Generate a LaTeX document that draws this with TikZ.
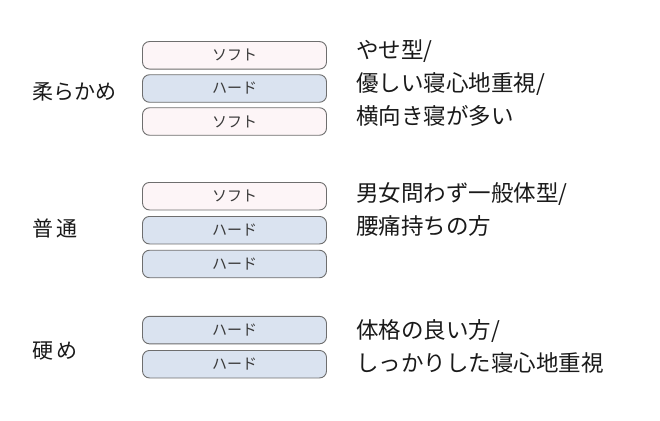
\documentclass[tikz,border=0pt]{standalone}
\usepackage{fontspec}
\setmainfont{Noto Sans CJK JP}
\definecolor{softfill}{HTML}{FDF5F7}
\definecolor{hardfill}{HTML}{DAE3F0}
\definecolor{boxgray}{HTML}{6E6E6E}
\definecolor{boxtext}{HTML}{3A3A3A}
\definecolor{maintext}{HTML}{1A1A1A}
\begin{document}
\begin{tikzpicture}[x=1pt,y=-1pt,
  boxbase/.style={draw=boxgray, line width=0.9pt, rounded corners=7pt,
    minimum width=184pt, minimum height=27.5pt, inner sep=0pt,
    font=\fontsize{15}{15}\selectfont, text=boxtext},
  softbox/.style={boxbase, fill=softfill},
  hardbox/.style={boxbase, fill=hardfill},
  lbl/.style={anchor=west, inner sep=0pt, text=maintext,
    font=\fontsize{21}{21}\selectfont, text height=18.5pt, text depth=2.5pt},
  desc/.style={anchor=west, inner sep=0pt, text=maintext,
    font=\fontsize{22.5}{22.5}\selectfont, text height=19.8pt, text depth=2.7pt}]
\useasboundingbox (0,0) rectangle (660,420);
\fill[white] (0,0) rectangle (660,420);

% group 1
\node[lbl] (l1) at (32,91) {柔らかめ};
\node[softbox] (b11) at (234.5,55.3) {ソフト};
\node[hardbox] (b12) at (234.5,88.5) {ハード};
\node[softbox] (b13) at (234.5,121.5) {ソフト};
\node[desc] (d11) at (356,50) {やせ型/};
\node[desc] (d12) at (356,83) {優しい寝心地重視/};
\node[desc] (d13) at (356,116) {横向き寝が多い};

% group 2
\node[lbl] (l2) at (32,228) {普\hspace{3pt}通};
\node[softbox] (b21) at (234.5,196.2) {ソフト};
\node[hardbox] (b22) at (234.5,230.2) {ハード};
\node[hardbox] (b23) at (234.5,264) {ハード};
\node[desc] (d21) at (356,193) {男女問わず一般体型/};
\node[desc] (d22) at (356,225.5) {腰痛持ちの方};

% group 3
\node[lbl] (l3) at (32,350) {硬\hspace{3pt}め};
\node[hardbox] (b31) at (234.5,330.1) {ハード};
\node[hardbox] (b32) at (234.5,364.2) {ハード};
\node[desc] (d31) at (356,330) {体格の良い方/};
\node[desc] (d32) at (356,362.5) {しっかりした寝心地重視};
\end{tikzpicture}
\end{document}
